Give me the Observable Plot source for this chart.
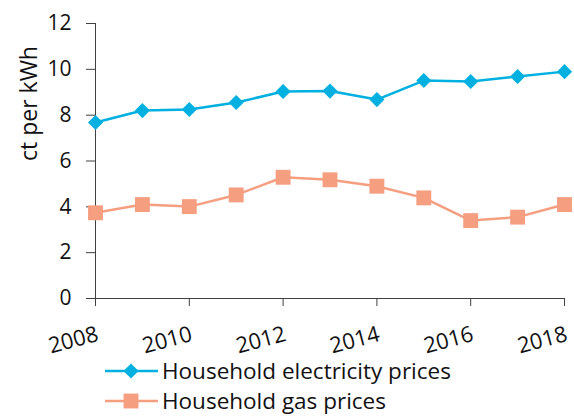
<!DOCTYPE html>
<html>
<head>
<meta charset="utf-8">
<script src="https://cdn.jsdelivr.net/npm/d3@7"></script>
<script src="https://cdn.jsdelivr.net/npm/@observablehq/plot@0.6"></script>
<style>
  html, body { margin: 0; padding: 0; background: #fff; }
  body { width: 574px; height: 419px; overflow: hidden; font-family: "Open Sans", sans-serif; }
  #legend { position: absolute; left: 105px; top: 356px; font-size: 22.5px; line-height: 30px; color: #111; }
  .item { display: flex; align-items: center; height: 30px; }
  .item span { margin-left: 4px; }
</style>
</head>
<body>
<div id="chart"></div>
<div id="legend"></div>
<script>
const years = [2008, 2009, 2010, 2011, 2012, 2013, 2014, 2015, 2016, 2017, 2018];
const electricity = [7.68, 8.2, 8.25, 8.55, 9.03, 9.05, 8.68, 9.51, 9.47, 9.69, 9.9];
const gas = [3.74, 4.1, 4.01, 4.52, 5.29, 5.18, 4.9, 4.39, 3.4, 3.55, 4.1];
const seriesNames = ["Household electricity prices", "Household gas prices"];
const seriesColors = ["#00b0e0", "#f59e80"];
const xTicks = [2008, 2010, 2012, 2014, 2016, 2018];
const yTicks = [0, 2, 4, 6, 8, 10, 12];
const yLabel = "ct per kWh";

const elecData = years.map((y, i) => ({year: y, value: electricity[i]}));
const gasData = years.map((y, i) => ({year: y, value: gas[i]}));

const axisColor = "#404040";

const chart = Plot.plot({
  width: 574,
  height: 358,
  marginLeft: 95,
  marginRight: 10,
  marginTop: 23,
  marginBottom: 60,
  style: {fontFamily: "Open Sans, sans-serif", fontSize: "22px", color: "#111", background: "white"},
  x: {domain: [2008, 2018]},
  y: {domain: [0, 12]},
  marks: [
    Plot.axisY({ticks: yTicks, tickSize: 9, tickPadding: 15, label: null, stroke: axisColor, fill: "#111", fontSize: 21}),
    Plot.text([yLabel], {frameAnchor: "left", dx: -66, rotate: -90, fontSize: 23, fill: "#111"}),
    Plot.axisX({ticks: xTicks, tickFormat: "d", tickSize: 8, tickPadding: 19, tickRotate: -15, textAnchor: "end", lineAnchor: "top", label: null, stroke: axisColor, fill: "#111", fontSize: 22}),
    Plot.ruleY([0], {stroke: axisColor, strokeWidth: 1}),
    Plot.ruleX([2008], {stroke: axisColor, strokeWidth: 1}),
    Plot.lineY(elecData, {x: "year", y: "value", stroke: seriesColors[0], strokeWidth: 2.5}),
    Plot.dot(elecData, {x: "year", y: "value", symbol: "diamond2", r: 6.8, fill: seriesColors[0], stroke: "none"}),
    Plot.lineY(gasData, {x: "year", y: "value", stroke: seriesColors[1], strokeWidth: 2.5}),
    Plot.dot(gasData, {x: "year", y: "value", symbol: "square", r: 8.4, fill: seriesColors[1], stroke: "none"})
  ]
});
document.getElementById("chart").appendChild(chart);

// Legend
const legend = document.getElementById("legend");
const symbols = [d3.symbolDiamond2, d3.symbolSquare];
const sizes = [Math.PI * 6.8 * 6.8, Math.PI * 8.4 * 8.4];
seriesNames.forEach((name, i) => {
  const item = document.createElement("div");
  item.className = "item";
  const svg = d3.create("svg").attr("width", 53).attr("height", 30);
  svg.append("line").attr("x1", 0).attr("x2", 53).attr("y1", 15).attr("y2", 15)
    .attr("stroke", seriesColors[i]).attr("stroke-width", 2.5);
  svg.append("path").attr("d", d3.symbol(symbols[i], sizes[i])()).attr("transform", "translate(26,15)")
    .attr("fill", seriesColors[i]);
  item.appendChild(svg.node());
  const span = document.createElement("span");
  span.textContent = name;
  item.appendChild(span);
  legend.appendChild(item);
});
</script>
</body>
</html>
